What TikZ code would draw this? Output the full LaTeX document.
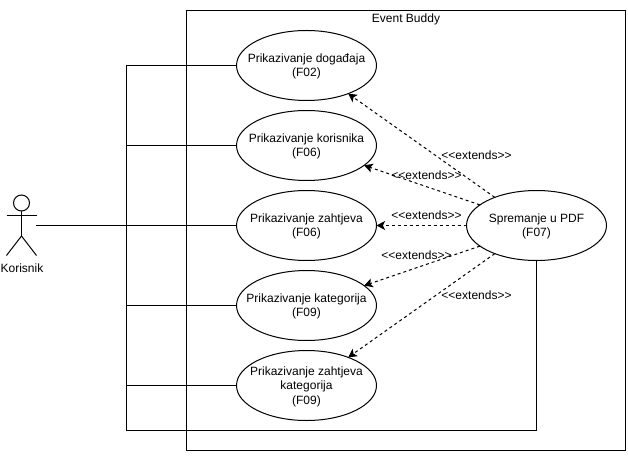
\documentclass[tikz,border=0pt]{standalone}
\usepackage{fontspec}
\setmainfont{Liberation Sans}
\usetikzlibrary{shapes.geometric,arrows.meta}
\newcommand{\uctext}[1]{\makebox[0pt]{\smash{\raisebox{-4.2pt}{\begin{tabular}[c]{@{}c@{}}#1\end{tabular}}}}}
\newcommand{\extext}{{<}{<}extends{>}{>}}
\tikzset{
  usecase/.style={ellipse,draw=black,fill=white,line width=1pt,minimum width=140pt,minimum height=70pt,inner sep=0pt,outer sep=0pt,font=\fontsize{12}{14.5}\selectfont},
  plainline/.style={draw=black,line width=1pt},
  extendline/.style={draw=black,line width=1pt,dash pattern=on 3pt off 3pt,-{Stealth[length=8.5pt,width=9pt,inset=2pt]}},
  extlabel/.style={font=\fontsize{12}{14}\selectfont,inner sep=0pt},
  caption/.style={font=\fontsize{12}{14}\selectfont,inner sep=0pt}
}
\begin{document}
\begin{tikzpicture}[x=1pt,y=-1pt]
\useasboundingbox (0,0) rectangle (628,462);
\fill[white] (0,0) rectangle (628,462);
% system boundary
\node[draw=black,line width=1pt,inner sep=0pt,outer sep=0pt,minimum width=438.5pt,minimum height=440pt,anchor=north west] (sys) at (186.5,10.5) {};
\node[caption] (systitle) at (406,19) {Event Buddy};
% junction coordinates
\coordinate (actorhand) at (36,225.5);
\coordinate (bustop) at (126.5,65.5);
\coordinate (busbottom) at (126.5,430.5);
% use cases
\node[usecase] (u1) at (306.5,65.5) {\uctext{Prikazivanje događaja\\(F02)}};
\node[usecase] (u2) at (306.5,145.5) {\uctext{Prikazivanje korisnika\\(F06)}};
\node[usecase] (u3) at (306.5,225.5) {\uctext{Prikazivanje zahtjeva\\(F06)}};
\node[usecase] (u4) at (306.5,305.5) {\uctext{Prikazivanje kategorija\\(F09)}};
\node[usecase] (u5) at (306.5,385.5) {\uctext{Prikazivanje zahtjeva\\kategorija\\(F09)}};
\node[usecase] (pdf) at (536.5,225.5) {\uctext{Spremanje u PDF\\(F07)}};
% actor
\node[draw=black,line width=1pt,circle,minimum size=16pt,inner sep=0pt,outer sep=0pt] (head) at (21.5,203) {};
\coordinate (hip) at (21.5,236);
\coordinate (lefthand) at (6.5,215.5);
\coordinate (righthand) at (36.5,215.5);
\coordinate (leftfoot) at (6.5,255.5);
\coordinate (rightfoot) at (36.5,255.5);
\draw[plainline] (head.south) -- (hip);
\draw[plainline] (lefthand) -- (righthand);
\draw[plainline] (leftfoot) -- (hip) -- (rightfoot);
\node[caption] (korisnik) at (22,268.5) {Korisnik};
% associations
\draw[plainline] (actorhand) -- (u3.west);
\draw[plainline] (u1.west) -- (bustop) -- (busbottom) -| (pdf.south);
\draw[plainline] (u2.west) -- (u2.west -| bustop);
\draw[plainline] (u4.west) -- (u4.west -| bustop);
\draw[plainline] (u5.west) -- (u5.west -| bustop);
% extends
\draw[extendline] (pdf.146) -- (u1.-34);
\draw[extendline] (pdf.160) -- (u2.-19);
\draw[extendline] (pdf.west) -- (u3.east);
\draw[extendline] (pdf.200) -- (u4.19);
\draw[extendline] (pdf.214) -- (u5.34);
\node[extlabel] (e1) at (476.5,155) {\extext};
\node[extlabel] (e2) at (426.5,175) {\extext};
\node[extlabel] (e3) at (426.5,215) {\extext};
\node[extlabel] (e4) at (416.5,255) {\extext};
\node[extlabel] (e5) at (476.5,295) {\extext};
\end{tikzpicture}
\end{document}
